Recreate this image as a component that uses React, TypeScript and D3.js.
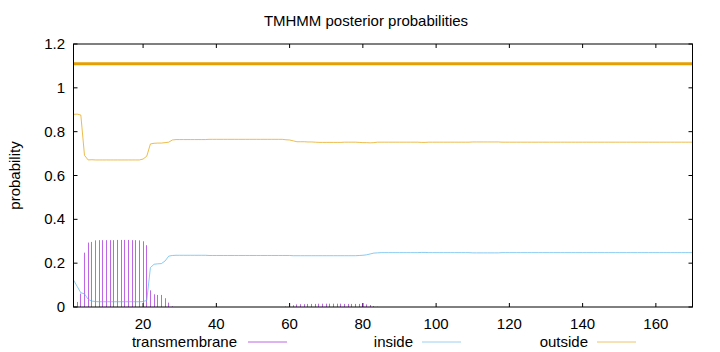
import React from 'react';
import * as d3 from 'd3';

// Residue positions 1..170
const firstResidue = 1;
const lastResidue = 170;

const seriesNames = ['transmembrane', 'inside', 'outside'];
const seriesColors = ['#9400d3', '#56b4e9', '#e69f00'];

const transmembrane = [
  0, 0.023, 0.061, 0.248, 0.294, 0.297, 0.304, 0.305, 0.305, 0.305,
  0.305, 0.305, 0.306, 0.306, 0.306, 0.306, 0.305, 0.305, 0.304, 0.300,
  0.282, 0.076, 0.058, 0.055, 0.055, 0.040, 0.020, 0.003, 0, 0,
  0, 0, 0, 0, 0, 0, 0, 0, 0, 0,
  0, 0, 0, 0, 0, 0, 0, 0, 0, 0,
  0, 0, 0, 0, 0, 0, 0, 0, 0.002, 0.003,
  0.008, 0.012, 0.013, 0.013, 0.014, 0.014, 0.014, 0.015, 0.015, 0.015,
  0.015, 0.015, 0.015, 0.015, 0.014, 0.014, 0.014, 0.014, 0.014, 0.014,
  0.012, 0.009, 0.004, 0.001, 0, 0, 0, 0, 0, 0,
  0, 0, 0, 0, 0, 0, 0, 0, 0, 0,
  0, 0, 0, 0, 0, 0, 0, 0, 0, 0,
  0, 0, 0, 0, 0, 0, 0, 0, 0, 0,
  0, 0, 0, 0, 0, 0, 0, 0, 0, 0,
  0, 0, 0, 0, 0, 0, 0, 0, 0, 0,
  0, 0, 0, 0, 0, 0, 0, 0, 0, 0,
  0, 0, 0, 0, 0, 0, 0, 0, 0, 0,
  0, 0, 0, 0, 0, 0, 0, 0, 0, 0,
];

const inside = [
  0.123, 0.094, 0.065, 0.060, 0.035, 0.027, 0.025, 0.024, 0.024, 0.024,
  0.024, 0.024, 0.024, 0.024, 0.024, 0.024, 0.024, 0.024, 0.024, 0.025,
  0.030, 0.180, 0.195, 0.197, 0.198, 0.210, 0.232, 0.235, 0.236, 0.236,
  0.236, 0.236, 0.236, 0.236, 0.236, 0.236, 0.236, 0.235, 0.235, 0.235,
  0.235, 0.235, 0.235, 0.235, 0.235, 0.235, 0.235, 0.235, 0.235, 0.235,
  0.235, 0.235, 0.235, 0.235, 0.235, 0.235, 0.235, 0.235, 0.235, 0.235,
  0.234, 0.234, 0.234, 0.234, 0.234, 0.234, 0.234, 0.234, 0.234, 0.234,
  0.234, 0.234, 0.234, 0.234, 0.234, 0.234, 0.234, 0.234, 0.235, 0.236,
  0.238, 0.242, 0.246, 0.247, 0.248, 0.248, 0.248, 0.248, 0.248, 0.248,
  0.248, 0.248, 0.248, 0.248, 0.248, 0.249, 0.249, 0.248, 0.248, 0.248,
  0.248, 0.248, 0.248, 0.248, 0.248, 0.248, 0.248, 0.248, 0.248, 0.247,
  0.247, 0.247, 0.247, 0.247, 0.247, 0.247, 0.247, 0.248, 0.248, 0.248,
  0.248, 0.248, 0.248, 0.248, 0.248, 0.248, 0.248, 0.248, 0.248, 0.248,
  0.248, 0.248, 0.248, 0.248, 0.248, 0.248, 0.248, 0.248, 0.248, 0.248,
  0.248, 0.248, 0.248, 0.248, 0.248, 0.248, 0.248, 0.248, 0.248, 0.248,
  0.248, 0.248, 0.248, 0.248, 0.248, 0.248, 0.248, 0.248, 0.248, 0.248,
  0.248, 0.248, 0.248, 0.248, 0.248, 0.248, 0.248, 0.248, 0.248, 0.248,
];

const outside = [
  0.879, 0.880, 0.876, 0.692, 0.671, 0.672, 0.671, 0.671, 0.671, 0.671,
  0.671, 0.671, 0.671, 0.671, 0.671, 0.671, 0.671, 0.671, 0.671, 0.675,
  0.688, 0.744, 0.747, 0.748, 0.748, 0.750, 0.752, 0.762, 0.764, 0.764,
  0.764, 0.764, 0.764, 0.764, 0.764, 0.764, 0.764, 0.765, 0.765, 0.765,
  0.765, 0.765, 0.765, 0.765, 0.765, 0.765, 0.765, 0.765, 0.765, 0.765,
  0.765, 0.765, 0.765, 0.765, 0.765, 0.765, 0.765, 0.765, 0.763, 0.762,
  0.758, 0.754, 0.754, 0.754, 0.753, 0.753, 0.752, 0.751, 0.751, 0.751,
  0.751, 0.751, 0.751, 0.751, 0.752, 0.752, 0.752, 0.752, 0.751, 0.750,
  0.750, 0.749, 0.750, 0.752, 0.752, 0.752, 0.752, 0.752, 0.752, 0.752,
  0.752, 0.752, 0.752, 0.752, 0.752, 0.751, 0.751, 0.752, 0.752, 0.752,
  0.752, 0.752, 0.752, 0.752, 0.752, 0.752, 0.752, 0.752, 0.752, 0.753,
  0.753, 0.753, 0.753, 0.753, 0.753, 0.753, 0.753, 0.752, 0.752, 0.752,
  0.752, 0.752, 0.752, 0.752, 0.752, 0.752, 0.752, 0.752, 0.752, 0.752,
  0.752, 0.752, 0.752, 0.752, 0.752, 0.752, 0.752, 0.752, 0.752, 0.752,
  0.752, 0.752, 0.752, 0.752, 0.752, 0.752, 0.752, 0.752, 0.752, 0.752,
  0.752, 0.752, 0.752, 0.752, 0.752, 0.752, 0.752, 0.752, 0.752, 0.752,
  0.752, 0.752, 0.752, 0.752, 0.752, 0.752, 0.752, 0.752, 0.752, 0.752,
];

// Topology bar (predicted outside for the whole sequence)
const topologyLevel = 1.11;
const topologyStart = 1;
const topologyEnd = 170;

const xTicks = [20, 40, 60, 80, 100, 120, 140, 160];
const yTicks = [0, 0.2, 0.4, 0.6, 0.8, 1, 1.2];
const yTickLabels = ['0', '0.2', '0.4', '0.6', '0.8', '1', '1.2'];

const titleText = 'TMHMM posterior probabilities';
const yLabelText = 'probability';

const W = 720;
const H = 352;
const M = { left: 73.5, right: 692.5, top: 44, bottom: 307 };
const FONT = "'Liberation Sans', Arial, Helvetica, sans-serif";
const FS = 15;

export default function App() {
  const x = d3.scaleLinear().domain([firstResidue, lastResidue]).range([M.left, M.right]);
  const y = d3.scaleLinear().domain([0, 1.2]).range([M.bottom, M.top]);
  const pos = transmembrane.map((_, i) => firstResidue + i);

  const line = (vals: number[]) =>
    d3.line<number>().x((_, i) => x(pos[i])).y((d) => y(d))(vals) || '';

  const tick = 4;
  const legendItems = [
    { name: seriesNames[0], color: seriesColors[0], textEnd: 237, lx1: 248, lx2: 287 },
    { name: seriesNames[1], color: seriesColors[1], textEnd: 413, lx1: 422, lx2: 461 },
    { name: seriesNames[2], color: seriesColors[2], textEnd: 588, lx1: 597, lx2: 636 },
  ];
  const legendY = 342;

  return (
    <svg width={W} height={H} style={{ position: 'absolute', left: 0, top: 0, background: '#fff' }}
      fontFamily={FONT} fontSize={FS}>
      <rect x={0} y={0} width={W} height={H} fill="#fff" />
      <text x={366} y={26} textAnchor="middle" fill="#000">{titleText}</text>
      <text transform={`translate(20,${(M.top + M.bottom) / 2}) rotate(-90)`} textAnchor="middle" fill="#000">{yLabelText}</text>

      {/* y ticks */}
      {yTicks.map((t, i) => (
        <g key={'y' + i}>
          <line x1={M.left} x2={M.left + tick} y1={y(t)} y2={y(t)} stroke="#000" strokeWidth={1} />
          <line x1={M.right} x2={M.right - tick} y1={y(t)} y2={y(t)} stroke="#000" strokeWidth={1} />
          <text x={65} y={y(t) + 5} textAnchor="end" fill="#000">{yTickLabels[i]}</text>
        </g>
      ))}
      {/* x ticks */}
      {xTicks.map((t) => (
        <g key={'x' + t}>
          <line x1={x(t)} x2={x(t)} y1={M.bottom} y2={M.bottom - tick} stroke="#000" strokeWidth={1} />
          <line x1={x(t)} x2={x(t)} y1={M.top} y2={M.top + tick} stroke="#000" strokeWidth={1} />
          <text x={x(t)} y={329} textAnchor="middle" fill="#000">{t}</text>
        </g>
      ))}

      {/* transmembrane impulses */}
      {transmembrane.map((v, i) => {
        if (v <= 0) return null;
        const px = Math.floor(x(pos[i])) + 0.5;
        return <line key={'imp' + i} x1={px} x2={px} y1={y(0)} y2={y(v)}
          stroke={seriesColors[0]} strokeWidth={1} strokeOpacity={0.6} />;
      })}
      <path d={line(inside)} fill="none" stroke={seriesColors[1]} strokeWidth={1} strokeOpacity={0.7} />
      <path d={line(outside)} fill="none" stroke={seriesColors[2]} strokeWidth={1} strokeOpacity={0.7} />

      {/* topology bar */}
      <line x1={x(topologyStart)} x2={x(topologyEnd)} y1={y(topologyLevel)} y2={y(topologyLevel)}
        stroke={seriesColors[2]} strokeWidth={3} />

      {/* border */}
      <rect x={M.left} y={M.top} width={M.right - M.left} height={M.bottom - M.top}
        fill="none" stroke="#000" strokeWidth={1} />

      {/* legend */}
      {legendItems.map((it) => (
        <g key={it.name}>
          <text x={it.textEnd} y={legendY + 5} textAnchor="end" fill="#000">{it.name}</text>
          <line x1={it.lx1} x2={it.lx2} y1={legendY} y2={legendY} stroke={it.color} strokeWidth={1} strokeOpacity={0.6} />
        </g>
      ))}
    </svg>
  );
}
